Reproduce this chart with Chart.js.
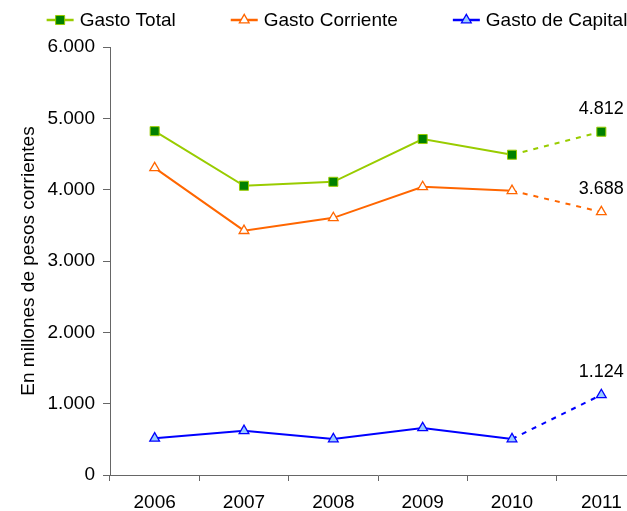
<!DOCTYPE html>
<html>
<head>
<meta charset="utf-8">
<script src="https://cdn.jsdelivr.net/npm/chart.js@4.4.1/dist/chart.umd.min.js"></script>
<style>
    html, body { margin: 0; padding: 0; background: #fff; overflow: hidden; }
    #wrap { position: relative; width: 660px; height: 511px; }
</style>
</head>
<body>
<div id="wrap"><canvas id="gastoChart"></canvas></div>
<script>
const years = ["2006", "2007", "2008", "2009", "2010", "2011"];
const gastoTotal = [4820, 4055, 4110, 4710, 4490, 4812];
const gastoCorriente = [4305, 3425, 3605, 4040, 3985, 3688];
const gastoCapital = [515, 620, 505, 660, 505, 1124];
const yTicks = [0, 1000, 2000, 3000, 4000, 5000, 6000];

const axisColor = "#666666";

function fmt(n) {
    return String(n).replace(/\B(?=(\d{3})+(?!\d))/g, ".");
}

// last segment (2010 -> 2011) is dashed
const dashLast = {
    borderDash: (ctx) => (ctx.p1DataIndex === years.length - 1 ? [5, 6] : undefined),
};

// legend: short line with the marker in the middle, then the label
const lineLegend = {
    id: "lineLegend",
    afterDraw(chart) {
        const ctx = chart.ctx;
        const lineLen = 27, textGap = 6, gap = 55, y = 20;
        ctx.save();
        ctx.font = "19px Arial";
        ctx.textBaseline = "middle";
        ctx.textAlign = "left";
        const items = chart.data.datasets.map((ds) => ({
            ds: ds,
            w: lineLen + textGap + ctx.measureText(ds.label).width,
        }));
        const total = items.reduce((s, it) => s + it.w, 0) + gap * (items.length - 1);
        let x = 337 - total / 2;
        items.forEach((it) => {
            const ds = it.ds;
            ctx.strokeStyle = ds.borderColor;
            ctx.lineWidth = 2.5;
            ctx.beginPath();
            ctx.moveTo(x, y);
            ctx.lineTo(x + lineLen, y);
            ctx.stroke();
            ctx.fillStyle = ds.pointBackgroundColor;
            ctx.strokeStyle = ds.pointBorderColor;
            ctx.lineWidth = ds.pointBorderWidth;
            Chart.helpers.drawPoint(ctx, {
                pointStyle: ds.pointStyle,
                radius: ds.pointRadius,
                rotation: 0,
                borderWidth: ds.pointBorderWidth,
            }, x + lineLen / 2, y);
            ctx.fillStyle = "#000";
            ctx.fillText(ds.label, x + lineLen + textGap, y + 1);
            x += it.w + gap;
        });
        ctx.restore();
    },
};

// value label above the 2011 point of each series
const lastValueLabels = {
    id: "lastValueLabels",
    afterDatasetsDraw(chart) {
        const ctx = chart.ctx;
        ctx.save();
        ctx.font = "18px Arial";
        ctx.fillStyle = "#000";
        ctx.textAlign = "center";
        ctx.textBaseline = "middle";
        chart.data.datasets.forEach((ds, i) => {
            const pts = chart.getDatasetMeta(i).data;
            const last = pts[pts.length - 1];
            ctx.fillText(fmt(ds.data[ds.data.length - 1]), last.x, last.y - 23);
        });
        ctx.restore();
    },
};

new Chart(document.getElementById("gastoChart"), {
    type: "line",
    data: {
        labels: years,
        datasets: [
            {
                label: "Gasto Total",
                data: gastoTotal,
                borderColor: "#99CC00",
                borderWidth: 2,
                pointStyle: "rect",
                pointRadius: 6.4,
                pointBackgroundColor: "#008000",
                pointBorderColor: "#99CC00",
                pointBorderWidth: 1,
                segment: dashLast,
            },
            {
                label: "Gasto Corriente",
                data: gastoCorriente,
                borderColor: "#FF6600",
                borderWidth: 2,
                pointStyle: "triangle",
                pointRadius: 5.6,
                pointBackgroundColor: "#FFFFFF",
                pointBorderColor: "#FF6600",
                pointBorderWidth: 1.3,
                segment: dashLast,
            },
            {
                label: "Gasto de Capital",
                data: gastoCapital,
                borderColor: "#0000FF",
                borderWidth: 2,
                pointStyle: "triangle",
                pointRadius: 5.6,
                pointBackgroundColor: "#99CCFF",
                pointBorderColor: "#0000FF",
                pointBorderWidth: 1.3,
                segment: dashLast,
            },
        ],
    },
    options: {
        responsive: true,
        maintainAspectRatio: false,
        animation: false,
        layout: { padding: { top: 47, right: 14, bottom: 0, left: 0 } },
        plugins: {
            legend: { display: false },
            tooltip: { enabled: false },
        },
        scales: {
            x: {
                offset: true,
                grid: {
                    offset: true,
                    drawOnChartArea: false,
                    tickLength: 6,
                    color: axisColor,
                },
                border: { color: axisColor },
                ticks: {
                    color: "#000",
                    padding: 10,
                    maxRotation: 0,
                    font: { family: "Arial", size: 19 },
                },
                afterFit: (scale) => { scale.height = 36; },
            },
            y: {
                min: 0,
                max: 6000,
                afterBuildTicks: (scale) => {
                    scale.ticks = yTicks.map((v) => ({ value: v }));
                },
                grid: {
                    drawOnChartArea: false,
                    tickLength: 7,
                    color: axisColor,
                },
                border: { color: axisColor },
                ticks: {
                    color: "#000",
                    padding: 8,
                    font: { family: "Arial", size: 19 },
                    callback: (v) => fmt(v),
                },
                title: {
                    display: true,
                    text: "En millones de pesos corrientes",
                    color: "#000",
                    font: { family: "Arial", size: 19 },
                    padding: { top: 17, bottom: 0 },
                },
                afterFit: (scale) => { scale.width = 110; },
            },
        },
    },
    plugins: [lineLegend, lastValueLabels],
});
</script>
</body>
</html>
